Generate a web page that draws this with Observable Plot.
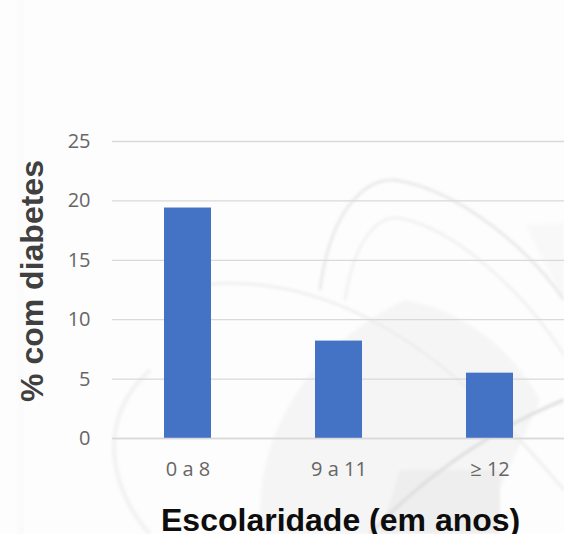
<!DOCTYPE html>
<html><head><meta charset="utf-8">
<script src="https://cdn.jsdelivr.net/npm/d3@7"></script>
<script src="https://cdn.jsdelivr.net/npm/@observablehq/plot@0.6"></script>
<style>
html,body{margin:0;padding:0;background:#fff;overflow:hidden}
#c{position:absolute;left:0;top:0;width:564px;height:534px;overflow:hidden;background:#fdfdfd}
#w{position:absolute;left:0;top:0;filter:blur(1.6px)}
</style></head><body><div id="c">
<svg id="w" width="564" height="534" fill="none" aria-hidden="true">
<path d="M262 534 C250 450 300 350 405 300 C460 310 510 345 540 400 L480 534 Z" fill="#f5f5f5"/>
<path d="M400 470 L500 470 L500 534 L380 534 Z" fill="#eeeeee"/>
<path d="M525 225 L564 224 L564 300 Z" fill="#f8f8f8"/>
<path d="M320 290 C330 210 365 178 395 180 C460 190 530 250 564 300" stroke="#e6e6e6" stroke-width="2.5"/>
<path d="M345 300 C355 235 380 215 400 218 C460 230 530 300 564 355" stroke="#ececec" stroke-width="2"/>
<path d="M200 285 C290 275 370 310 440 365 C490 405 530 450 564 490" stroke="#eaeaea" stroke-width="2"/>
<path d="M370 534 C420 480 490 430 564 400" stroke="#dddddd" stroke-width="3"/>
<path d="M150 534 C110 490 95 420 150 370" stroke="#f1f1f1" stroke-width="4"/>
<path d="M21 0 L21 534" stroke="#fafafa" stroke-width="6"/>
</svg>
</div>
<script>
const categories = ["0 a 8","9 a 11","≥ 12"];
const values = [19.4,8.2,5.5];
const yTicks = [0,5,10,15,20,25];
const yTitle = "% com diabetes";
const xTitle = "Escolaridade (em anos)";
const table = categories.map((c,i)=>({c,v:values[i]}));
const chart = Plot.plot({
  width:564,height:534,
  marginLeft:112,marginRight:0,marginTop:141,marginBottom:96,
  style:{background:"transparent",fontFamily:"'Open Sans', sans-serif",fontSize:"20px",color:"#666666"},
  x:{domain:categories,range:[112,565],paddingInner:0.689,paddingOuter:0.3445,label:null,tickSize:0,tickPadding:23},
  y:{domain:[0,25],ticks:yTicks,label:null,tickSize:0,tickPadding:22},
  marks:[
    Plot.gridY(yTicks,{stroke:"#d9d9d9",strokeOpacity:1,strokeWidth:1.3}),
    Plot.barY(table,{x:"c",y:"v",fill:"#4472c4"}),
    Plot.ruleY([0],{stroke:"#d9d9d9",strokeWidth:1.3})
  ]
});
chart.style.position="absolute";chart.style.left="0";chart.style.top="0";
document.getElementById("c").appendChild(chart);
function lab(t,css){const d=document.createElement("div");d.textContent=t;d.style.cssText="position:absolute;white-space:nowrap;font-family:'Liberation Sans',Arial,sans-serif;font-weight:700;font-size:32px;line-height:36px;"+css;document.getElementById("c").appendChild(d);}
lab(xTitle,"left:161px;top:502px;color:#0d0d0d;");
lab(yTitle,"left:32px;top:281px;color:#404040;transform:translate(-50%,-50%) rotate(-90deg);");
</script></body></html>
